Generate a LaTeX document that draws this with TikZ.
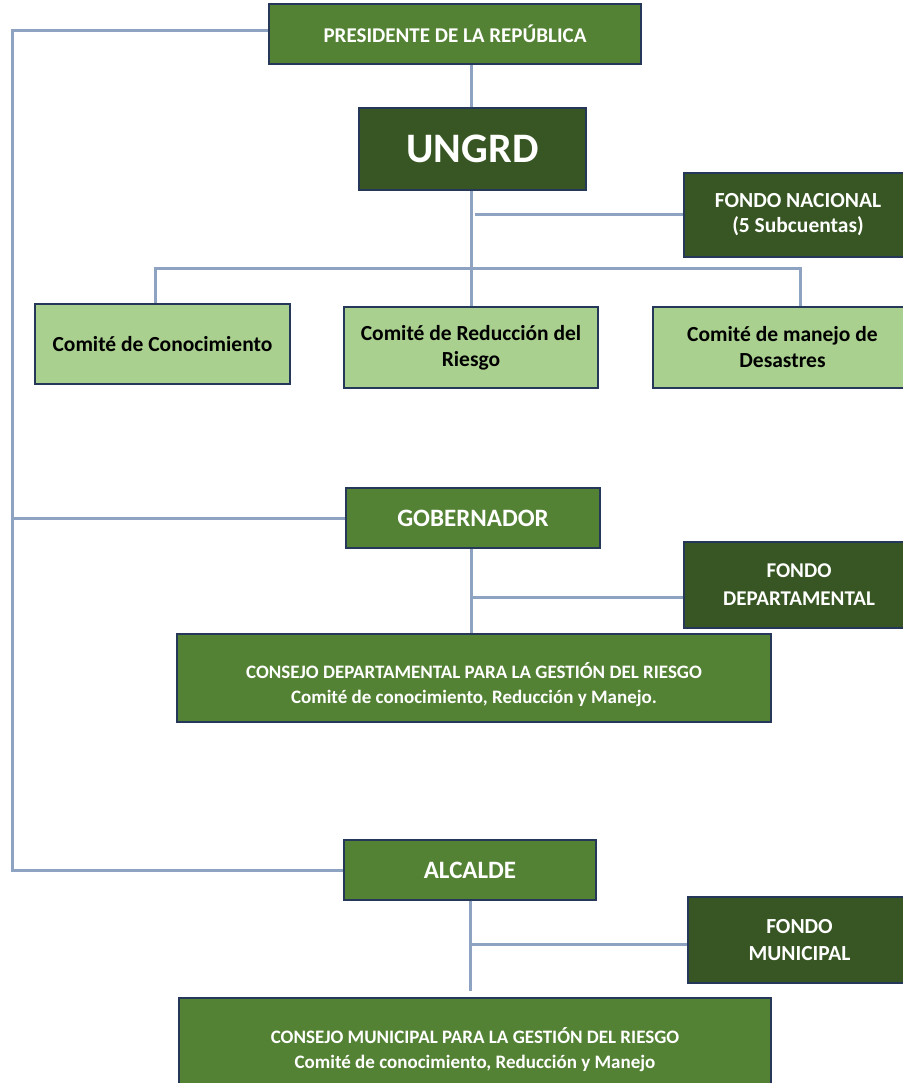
\documentclass[tikz,border=0pt]{standalone}
\usepackage{fontspec}
\setmainfont{Carlito}
\usetikzlibrary{calc}
\definecolor{midgreen}{RGB}{84,130,53}
\definecolor{darkgreen}{RGB}{55,86,35}
\definecolor{lightgreen}{RGB}{169,208,142}
\definecolor{edgeblue}{RGB}{38,56,90}
\definecolor{linkblue}{RGB}{142,163,194}
\tikzset{
  box/.style={draw=edgeblue, line width=1.1pt, inner sep=2pt, align=center,
              font=\bfseries, text=white},
  midbox/.style={box, fill=midgreen},
  darkbox/.style={box, fill=darkgreen},
  lightbox/.style={box, fill=lightgreen, text=black},
  boxtext/.style={inner sep=0pt, align=center, text=white},
  conn/.style={draw=linkblue, line width=3pt},
}
\newcommand{\fs}[2]{\fontsize{#1}{#2}\selectfont}
\begin{document}
\begin{tikzpicture}[x=1pt,y=-1pt]
\useasboundingbox (0,0) rectangle (902,1083);
\fill[white] (0,0) rectangle (902,1083);

% national level
\node[midbox, minimum width=372pt, minimum height=60pt, font=\bfseries\fs{21}{25}] (pres) at (455,34) {PRESIDENTE DE LA REPÚBLICA};
\node[darkbox, minimum width=227pt, minimum height=82pt, font=\bfseries\fs{42}{48}] (ungrd) at (472.5,149) {UNGRD};
\node[darkbox, minimum width=228pt, minimum height=84pt, font=\bfseries\fs{21.5}{25}] (fn) at (798,215) {FONDO NACIONAL\\(5 Subcuentas)};

% committees
\node[lightbox, minimum width=255pt, minimum height=80pt, font=\bfseries\fs{21.5}{26}] (c1) at (162.5,344) {Comité de Conocimiento};
\node[lightbox, minimum width=254pt, minimum height=81pt, font=\bfseries\fs{21.5}{26}] (c2) at (471,347.5) {Comité de Reducción del\\Riesgo};
\node[lightbox, minimum width=259pt, minimum height=81pt, font=\bfseries\fs{21.5}{26}] (c3) at (782.5,347.5) {Comité de manejo de\\Desastres};

% departmental level
\node[midbox, minimum width=254pt, minimum height=60pt, font=\bfseries\fs{25}{28}] (gob) at (473,518) {GOBERNADOR};
\node[darkbox, minimum width=230pt, minimum height=86pt, font=\bfseries\fs{21}{28}] (fd) at (799,585) {FONDO\\DEPARTAMENTAL};
\node[midbox, minimum width=594pt, minimum height=88pt] (cd) at (474,678) {};
\node[boxtext, font=\bfseries\fs{19}{25}] (cdtext) at ([yshift=-7pt]cd.center) {CONSEJO DEPARTAMENTAL PARA LA GESTIÓN DEL RIESGO\\Comité de conocimiento, Reducción y Manejo.};

% municipal level
\node[midbox, minimum width=252pt, minimum height=60pt, font=\bfseries\fs{25}{28}] (alc) at (470,870) {ALCALDE};
\node[darkbox, minimum width=223pt, minimum height=86pt, font=\bfseries\fs{21.5}{27}] (fm) at (799.5,940) {FONDO\\MUNICIPAL};
\node[midbox, minimum width=592pt, minimum height=92pt] (cm) at (475,1044) {};
\node[boxtext, font=\bfseries\fs{19}{25}] (cmtext) at ([yshift=-6pt]cm.center) {CONSEJO MUNICIPAL PARA LA GESTIÓN DEL RIESGO\\Comité de conocimiento, Reducción y Manejo};

% connectors
\coordinate (spine) at (12,0);
\coordinate (b1) at (155,268);
\coordinate (b3) at (800,268);

\draw[conn] ([yshift=3pt]pres.west) -- ([yshift=3pt]pres.west -| spine) -- (alc.west -| spine) -- (alc.west);
\draw[conn] (gob.west) -- (gob.west -| spine);

\draw[conn] (ungrd.north -| c2.north) -- (pres.south -| c2.north);
\draw[conn] (ungrd.south -| c2.north) -- (c2.north);
\draw[conn] (fn.west) -- ([xshift=4pt]fn.west -| c2.north);
\draw[conn] (b1 |- c1.north) -- (b1) -- (b3) -- (b3 |- c3.north);

\draw[conn] (gob.south -| c2.north) -- (cd.north -| c2.north);
\draw[conn] ([yshift=-12pt]fd.west) -- ([yshift=-12pt]fd.west -| c2.north);

\draw[conn] (alc.south) -- ([yshift=6pt]cm.north -| alc.south);
\draw[conn] ([yshift=-4pt]fm.west) -- ([yshift=-4pt]fm.west -| alc.south);
\end{tikzpicture}
\end{document}
